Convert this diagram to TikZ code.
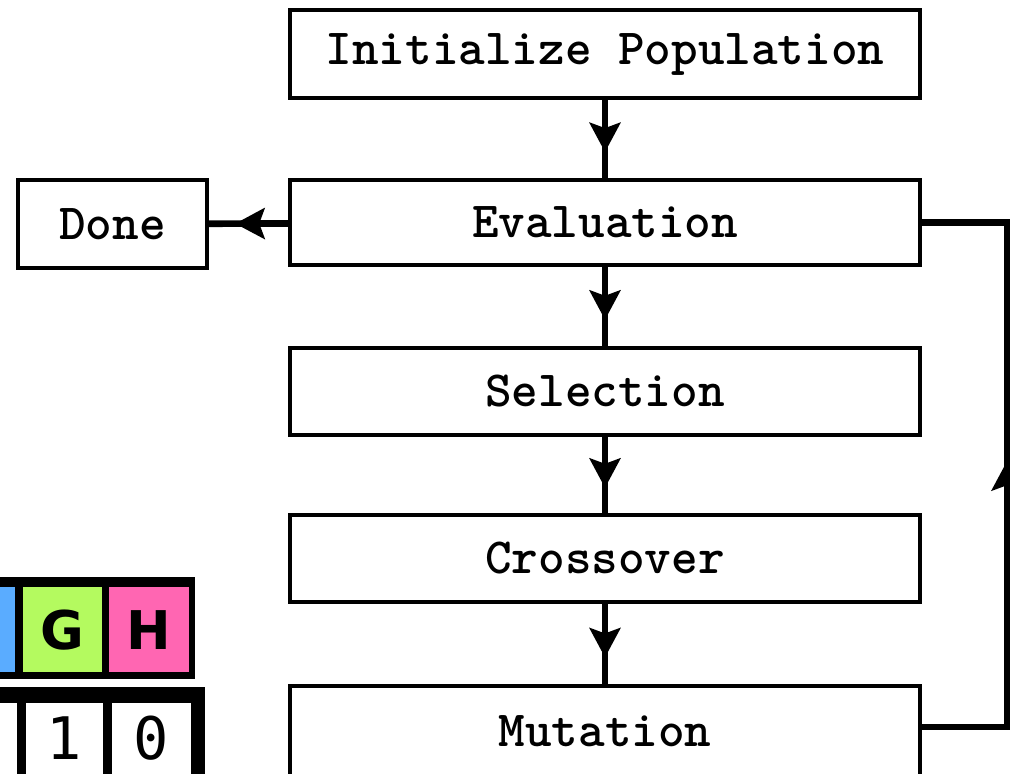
\documentclass[tikz,border=0pt]{standalone}
\usepackage{fontspec}
\newfontfamily\genefont{DejaVu Sans}
\newfontfamily\bitfont{DejaVu Sans Mono}
\usetikzlibrary{arrows.meta,decorations.markings,calc}

\definecolor{geneblue}{RGB}{90,172,255}
\definecolor{genegreen}{RGB}{180,250,95}
\definecolor{genepink}{RGB}{255,102,178}

\tikzset{
  stepbox/.style={draw=black, line width=2.3pt, fill=white, outer sep=0pt,
    inner sep=0pt, minimum width=472.5pt,
    font=\fontsize{38}{38}\selectfont\ttfamily\bfseries},
  headmark/.style={postaction={decorate, decoration={markings,
    mark=at position #1 with {\arrow{Stealth[length=22pt,width=23pt,inset=4pt]}}}}},
  flow/.style={line width=5pt},
  genecell/.style={draw=none, inner sep=0pt, outer sep=0pt,
    minimum width=59pt, minimum height=64pt,
    font=\fontsize{40}{40}\selectfont\genefont\bfseries},
  bitcell/.style={draw=none, fill=white, inner sep=0pt, outer sep=0pt,
    minimum width=59pt, minimum height=53.25pt,
    font=\fontsize{44}{44}\selectfont\bitfont},
}

\begin{document}
\begin{tikzpicture}[x=0.75pt, y=-0.75pt]
  \useasboundingbox (0,0) rectangle (1010,774);
  \clip (0,0) rectangle (1010,774);
  \fill[white] (0,0) rectangle (1010,774);

  % chromosome and its bit string
  \fill[black] (-10,577) rectangle (195,679);
  \node[genecell, fill=geneblue, anchor=north east] (geneF) at (15,587) {};
  \node[genecell, fill=genegreen, minimum width=59.25pt, anchor=north west] (geneG) at (23,587) {G};
  \node[genecell, fill=genepink, minimum width=60pt, anchor=north west] (geneH) at (109,587) {H};

  \fill[black] (-10,687) rectangle (205,774);
  \node[bitcell, anchor=north east] (bitF) at (17,703) {};
  \node[bitcell, minimum width=57.75pt, anchor=north west] (bitG) at (26,703) {\raisebox{-3.4pt}{1}};
  \node[bitcell, anchor=north west] (bitH) at (112,703) {\raisebox{-3.4pt}{0}};

  % flow chart of the algorithm
  \node[stepbox, minimum height=66pt] (init) at (605,54) {Initialize Population};
  \node[stepbox, minimum height=63.75pt] (eval) at (605,222.5) {Evaluation};
  \node[stepbox, minimum height=65.25pt] (sel) at (605,391.5) {Selection};
  \node[stepbox, minimum height=65.25pt] (cross) at (605,558.5) {Crossover};
  \node[stepbox, minimum height=67.5pt] (mut) at (605,731) {\raisebox{-3pt}{Mutation}};
  \node[stepbox, minimum width=141.75pt, minimum height=66pt] (done) at (112.5,224) {Done};

  \draw[flow, headmark=0.66] (init) -- (eval);
  \draw[flow, headmark=0.66] (eval) -- (sel);
  \draw[flow, headmark=0.66] (sel) -- (cross);
  \draw[flow, headmark=0.66] (cross) -- (mut);
  \draw[flow, headmark=0.66] (eval) -- (done);

  \coordinate (mutout) at ($(mut.east)+(0,-4)$);
  \coordinate (loopbot) at (1007,727);
  \coordinate (looptop) at (1007,222.5);
  \draw[flow, headmark=0.52] (mutout) -- (loopbot) -- (looptop) -- (eval.east);
\end{tikzpicture}
\end{document}
